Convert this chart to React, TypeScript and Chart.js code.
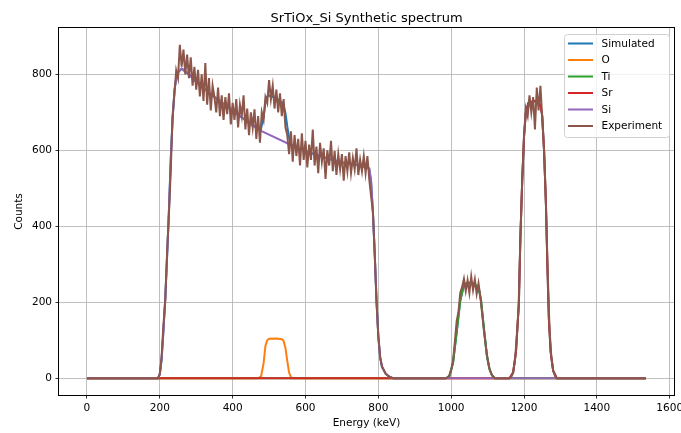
import React, { useEffect, useRef } from 'react';
import { Chart, registerables } from 'chart.js';

Chart.register(...registerables);

// ---- Text ----
const chartTitle = 'SrTiOx_Si Synthetic spectrum';
const xAxisLabel = 'Energy (keV)';
const yAxisLabel = 'Counts';

// ---- Ticks ----
const xTickValues = [0, 200, 400, 600, 800, 1000, 1200, 1400, 1600];
const yTickValues = [0, 200, 400, 600, 800];
const xRange = [-76.75, 1611.75];
const yRange = [-44, 922];

// ---- Series names / colours ----
const seriesNames = ['Simulated', 'O', 'Ti', 'Sr', 'Si', 'Experiment'];
const seriesColors = ['#1f77b4', '#ff7f0e', '#2ca02c', '#d62728', '#9467bd', '#8c564b'];

// ---- Simulated (sum of components) ----
const simEnergy = [0, 195, 200, 205, 210, 215, 220, 225, 230, 235, 240, 245, 250, 260, 280, 300, 350, 400, 450, 470,
  478, 485, 490, 495, 500, 520, 535, 540, 545, 550, 555, 560, 565, 600, 650, 700, 750, 775, 780, 785,
  790, 795, 800, 805, 810, 820, 830, 840, 985, 995, 1005, 1015, 1025, 1035, 1045, 1060, 1075, 1082, 1090, 1098,
  1105, 1112, 1120, 1160, 1170, 1178, 1186, 1190, 1195, 1200, 1205, 1212, 1230, 1245, 1250, 1255, 1260, 1264, 1268, 1273,
  1280, 1290, 1535];
const simCounts = [0, 0, 10, 50, 125, 210, 320, 440, 575, 680, 755, 790, 805, 815, 800, 780, 740, 705, 668, 660,
  657, 688, 727, 742, 744, 737, 726, 718, 698, 663, 633, 617, 612, 598, 582, 568, 560, 552, 520, 440,
  330, 205, 110, 55, 30, 12, 4, 0, 0, 5, 40, 120, 205, 245, 252, 250, 240, 205, 130, 60,
  25, 8, 0, 0, 15, 70, 200, 370, 520, 635, 700, 725, 730, 720, 690, 600, 465, 300, 160, 70,
  20, 0, 0];

// ---- O ----
const oEnergy = [0, 470, 478, 485, 490, 495, 500, 520, 535, 540, 545, 550, 555, 560, 565, 1535];
const oCounts = [0, 0, 5, 40, 85, 100, 104, 105, 103, 98, 80, 45, 15, 3, 0, 0];

// ---- Ti ----
const tiEnergy = [0, 985, 995, 1005, 1015, 1025, 1035, 1045, 1060, 1075, 1082, 1090, 1098, 1105, 1112, 1120, 1535];
const tiCounts = [0, 0, 5, 40, 120, 205, 245, 252, 250, 240, 205, 130, 60, 25, 8, 0, 0];

// ---- Sr ----
const srEnergy = [0, 1160, 1170, 1178, 1186, 1190, 1195, 1200, 1205, 1212, 1230, 1245, 1250, 1255, 1260, 1264, 1268, 1273, 1280, 1290, 1535];
const srCounts = [0, 0, 15, 70, 200, 370, 520, 635, 700, 725, 730, 720, 690, 600, 465, 300, 160, 70, 20, 0, 0];

// ---- Si ----
const siEnergy = [0, 195, 200, 205, 210, 215, 220, 225, 230, 235, 240, 245, 250, 260, 280, 300, 350, 400, 450, 478,
  556, 600, 650, 700, 750, 775, 780, 785, 790, 795, 800, 805, 810, 820, 830, 840, 1535];
const siCounts = [0, 0, 10, 50, 125, 210, 320, 440, 575, 680, 755, 790, 805, 815, 800, 780, 740, 705, 668, 651,
  616, 598, 582, 568, 560, 552, 520, 440, 330, 205, 110, 55, 30, 12, 4, 0, 0];

// ---- Experiment (5 keV channels, zero outside the segments) ----
const expChannelWidth = 5;
const expFirstEnergy = 0;
const expLastEnergy = 1535;
const expMainStart = 195;
const expMainCounts = [
  0, 12, 58, 140, 205, 330, 430, 545, 690, 745,
  810, 790, 878, 820, 865, 800, 852, 790, 845, 770,
  820, 760, 812, 742, 800, 730, 830, 720, 790, 705,
  770, 740, 700, 765, 690, 745, 680, 740, 695, 750,
  668, 725, 680, 735, 660, 720, 690, 745, 655, 710,
  640, 700, 660, 708, 630, 690, 620, 700, 680, 740,
  725, 785, 735, 770, 710, 760, 700, 750, 690, 735,
  660, 640, 590, 650, 570, 640, 585, 630, 560, 645,
  575, 625, 555, 615, 575, 655, 560, 610, 540, 620,
  570, 605, 525, 600, 560, 625, 545, 598, 535, 590,
  550, 590, 520, 585, 545, 595, 540, 580, 550, 605,
  535, 575, 545, 585, 540, 585, 525, 480, 440, 330,
  200, 110, 55, 32, 22, 12, 8, 4, 2, 0];
const expTiStart = 985;
const expTiCounts = [0, 2, 8, 22, 45, 95, 150, 175, 225, 240, 262, 230, 258, 225, 268, 232, 260, 222, 250, 215,
  170, 125, 85, 50, 25, 12, 4, 0];
const expSrStart = 1160;
const expSrCounts = [0, 3, 15, 45, 110, 185, 370, 520, 640, 710, 690, 745, 700, 740, 655, 765, 705, 770, 685, 600,
  460, 280, 130, 55, 20, 6, 0];

const FONT = "'DejaVu Sans', sans-serif";

export default function App() {
  const ref = useRef<HTMLCanvasElement>(null);

  useEffect(() => {
    const canvas = ref.current;
    if (!canvas) return;

    const pair = (xs: number[], ys: number[]) =>
      xs.slice(0, Math.min(xs.length, ys.length)).map((x, i) => ({ x, y: ys[i] }));
    const segment = (start: number, counts: number[]) =>
      counts.map((c, i) => ({ x: start + i * expChannelWidth, y: c }));

    const expPoints = [
      { x: expFirstEnergy, y: 0 },
      ...segment(expMainStart, expMainCounts),
      ...segment(expTiStart, expTiCounts),
      ...segment(expSrStart, expSrCounts),
      { x: expLastEnergy, y: 0 },
    ];

    const seriesData = [
      pair(simEnergy, simCounts),
      pair(oEnergy, oCounts),
      pair(tiEnergy, tiCounts),
      pair(srEnergy, srCounts),
      pair(siEnergy, siCounts),
      expPoints,
    ];

    const datasets = seriesData.map((d, i) => ({
      label: seriesNames[i],
      data: d,
      showLine: true,
      borderColor: seriesColors[i],
      backgroundColor: seriesColors[i],
      borderWidth: 2,
      pointRadius: 0,
      pointHoverRadius: 0,
      tension: 0,
      fill: false,
      order: seriesNames.length - i,
    }));

    const decor = {
      id: 'decor',
      afterDraw(chart: any) {
        const ctx = chart.ctx as CanvasRenderingContext2D;
        const a = chart.chartArea;
        ctx.save();
        // spines
        ctx.strokeStyle = '#000';
        ctx.lineWidth = 1;
        ctx.strokeRect(a.left - 0.5, a.top - 0.5, a.right - a.left + 1, a.bottom - a.top + 1);

        // title
        ctx.fillStyle = '#000';
        ctx.font = `13px ${FONT}`;
        ctx.textAlign = 'center';
        ctx.textBaseline = 'alphabetic';
        ctx.fillText(chartTitle, (a.left + a.right) / 2, 22);

        // axis labels
        ctx.font = `10.5px ${FONT}`;
        ctx.textBaseline = 'middle';
        ctx.fillText(xAxisLabel, (a.left + a.right) / 2, 423);
        ctx.save();
        ctx.translate(19, (a.top + a.bottom) / 2);
        ctx.rotate(-Math.PI / 2);
        ctx.fillText(yAxisLabel, 0, 0);
        ctx.restore();

        // legend
        const bx = 564.5, by = 34.5, bw = 105, bh = 103, r = 3;
        ctx.beginPath();
        ctx.moveTo(bx + r, by);
        ctx.lineTo(bx + bw - r, by);
        ctx.arcTo(bx + bw, by, bx + bw, by + r, r);
        ctx.lineTo(bx + bw, by + bh - r);
        ctx.arcTo(bx + bw, by + bh, bx + bw - r, by + bh, r);
        ctx.lineTo(bx + r, by + bh);
        ctx.arcTo(bx, by + bh, bx, by + bh - r, r);
        ctx.lineTo(bx, by + r);
        ctx.arcTo(bx, by, bx + r, by, r);
        ctx.closePath();
        ctx.fillStyle = 'rgba(255,255,255,0.8)';
        ctx.fill();
        ctx.strokeStyle = '#d0d0d0';
        ctx.lineWidth = 1;
        ctx.stroke();

        ctx.textAlign = 'left';
        ctx.textBaseline = 'middle';
        ctx.font = `10.5px ${FONT}`;
        seriesNames.forEach((name, i) => {
          const y = 43.5 + i * 16.5;
          ctx.strokeStyle = seriesColors[i];
          ctx.lineWidth = 2;
          ctx.beginPath();
          ctx.moveTo(568, y);
          ctx.lineTo(593, y);
          ctx.stroke();
          ctx.fillStyle = '#000';
          ctx.fillText(name, 601.5, y + 0.5);
        });
        ctx.restore();
      },
    };

    const gridOpts = {
      color: '#b0b0b0',
      lineWidth: 0.8,
      drawTicks: true,
      tickLength: 3.5,
      tickColor: '#000',
      tickWidth: 0.8,
    };

    const chart = new Chart(canvas, {
      type: 'scatter',
      data: { datasets: datasets as any },
      options: {
        responsive: false,
        maintainAspectRatio: false,
        animation: false,
        devicePixelRatio: 1,
        events: [],
        layout: { padding: { top: 28, right: 7, left: 0, bottom: 0 } },
        plugins: {
          legend: { display: false },
          title: { display: false },
          tooltip: { enabled: false },
        },
        scales: {
          x: {
            type: 'linear',
            min: xRange[0],
            max: xRange[1],
            afterBuildTicks: (s: any) => {
              s.ticks = xTickValues.map((v) => ({ value: v }));
            },
            afterFit: (s: any) => {
              s.height = 38;
              s.paddingLeft = 0;
              s.paddingRight = 0;
            },
            grid: gridOpts,
            border: { display: false },
            ticks: {
              color: '#000',
              font: { family: FONT, size: 10.5 },
              padding: 3.5,
              maxRotation: 0,
              minRotation: 0,
              autoSkip: false,
              callback: (v: any) => String(v),
            },
          },
          y: {
            type: 'linear',
            min: yRange[0],
            max: yRange[1],
            afterBuildTicks: (s: any) => {
              s.ticks = yTickValues.map((v) => ({ value: v }));
            },
            afterFit: (s: any) => {
              s.width = 59;
              s.paddingTop = 0;
              s.paddingBottom = 0;
            },
            grid: gridOpts,
            border: { display: false },
            ticks: {
              color: '#000',
              font: { family: FONT, size: 10.5 },
              padding: 3.5,
              autoSkip: false,
              callback: (v: any) => String(v),
            },
          },
        },
      } as any,
      plugins: [decor],
    });

    return () => chart.destroy();
  }, []);

  return (
    <div style={{ position: 'fixed', left: 0, top: 0, width: 681, height: 433, background: '#fff' }}>
      <canvas ref={ref} width={681} height={433} style={{ width: 681, height: 433, display: 'block' }} />
    </div>
  );
}
